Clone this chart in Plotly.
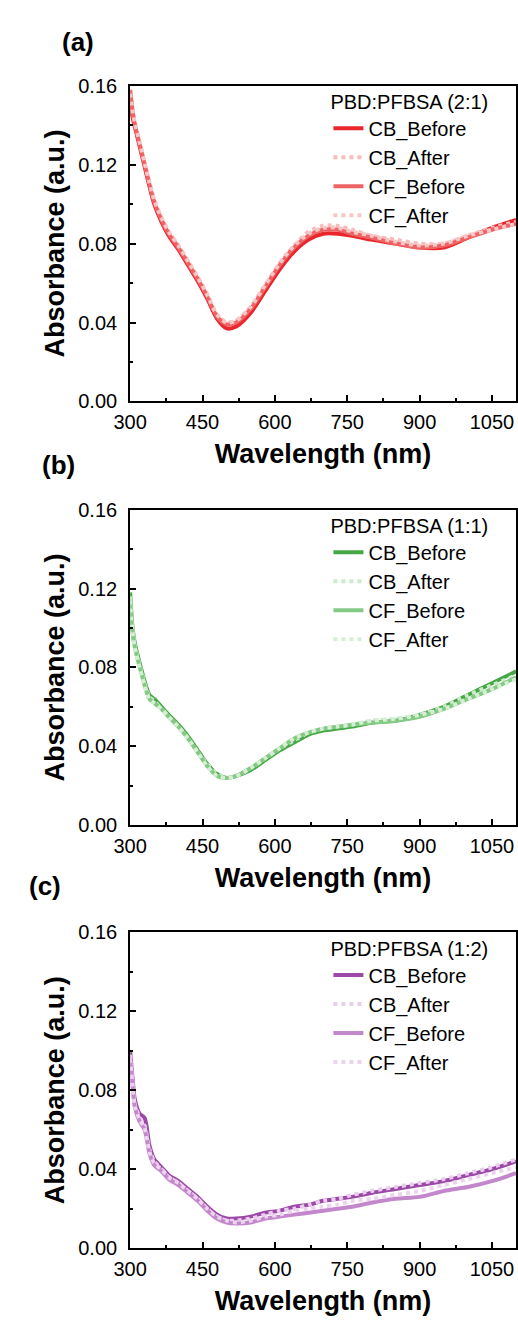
import plotly.graph_objects as go

# ---------------- data ----------------
wl = [300, 305, 310, 320, 330, 340, 350, 365, 380, 400, 420, 440, 460, 480, 500,
      520, 550, 580, 610, 640, 670, 700, 730, 760, 800, 850, 900, 950, 1000, 1050, 1100]

# (a) PBD:PFBSA (2:1)
a_cb_before = [0.150, 0.144, 0.139, 0.129, 0.119, 0.109, 0.100, 0.091, 0.084, 0.077, 0.069, 0.061,
               0.052, 0.042, 0.037, 0.038, 0.045, 0.056, 0.067, 0.076, 0.082, 0.085, 0.085, 0.084,
               0.082, 0.080, 0.078, 0.078, 0.083, 0.088, 0.092]
a_cb_after = [0.157, 0.148, 0.141, 0.131, 0.121, 0.111, 0.102, 0.093, 0.086, 0.079, 0.071, 0.063,
              0.054, 0.044, 0.040, 0.041, 0.048, 0.059, 0.070, 0.079, 0.086, 0.089, 0.089, 0.087,
              0.084, 0.082, 0.080, 0.080, 0.084, 0.088, 0.091]
a_cf_before = [0.158, 0.147, 0.140, 0.130, 0.120, 0.110, 0.101, 0.092, 0.085, 0.078, 0.070, 0.062,
               0.053, 0.043, 0.039, 0.040, 0.047, 0.058, 0.069, 0.078, 0.084, 0.087, 0.087, 0.085,
               0.083, 0.080, 0.078, 0.079, 0.083, 0.087, 0.090]
a_cf_after = [0.156, 0.147, 0.141, 0.131, 0.121, 0.111, 0.102, 0.093, 0.086, 0.079, 0.071, 0.063,
              0.054, 0.044, 0.040, 0.041, 0.048, 0.059, 0.070, 0.079, 0.085, 0.088, 0.088, 0.086,
              0.084, 0.081, 0.079, 0.080, 0.084, 0.087, 0.090]

# (b) PBD:PFBSA (1:1)
b_cb_before = [0.118, 0.100, 0.092, 0.082, 0.073, 0.066, 0.064, 0.060, 0.056, 0.051, 0.045, 0.038,
               0.031, 0.026, 0.024, 0.025, 0.028, 0.033, 0.038, 0.042, 0.046, 0.048, 0.049, 0.050,
               0.052, 0.053, 0.056, 0.060, 0.066, 0.072, 0.078]
b_cb_after = [0.116, 0.099, 0.091, 0.081, 0.072, 0.065, 0.063, 0.059, 0.055, 0.050, 0.044, 0.037,
              0.031, 0.026, 0.024, 0.025, 0.029, 0.034, 0.039, 0.043, 0.047, 0.049, 0.050, 0.051,
              0.053, 0.054, 0.056, 0.060, 0.066, 0.071, 0.076]
b_cf_before = [0.112, 0.097, 0.090, 0.080, 0.071, 0.064, 0.062, 0.059, 0.055, 0.050, 0.044, 0.037,
               0.030, 0.025, 0.024, 0.025, 0.029, 0.034, 0.039, 0.044, 0.047, 0.049, 0.050, 0.051,
               0.052, 0.053, 0.055, 0.059, 0.064, 0.069, 0.075]
b_cf_after = [0.114, 0.098, 0.090, 0.080, 0.071, 0.064, 0.062, 0.059, 0.055, 0.050, 0.044, 0.037,
              0.030, 0.025, 0.024, 0.025, 0.029, 0.034, 0.039, 0.044, 0.047, 0.049, 0.050, 0.051,
              0.053, 0.054, 0.056, 0.059, 0.064, 0.069, 0.074]

# (c) PBD:PFBSA (1:2)
c_cb_before = [0.100, 0.086, 0.075, 0.068, 0.066, 0.052, 0.045, 0.041, 0.037, 0.034, 0.030, 0.026,
               0.021, 0.017, 0.015, 0.015, 0.016, 0.018, 0.019, 0.021, 0.022, 0.024, 0.025, 0.026,
               0.028, 0.030, 0.032, 0.034, 0.037, 0.040, 0.044]
c_cb_after = [0.098, 0.084, 0.073, 0.066, 0.062, 0.050, 0.044, 0.040, 0.036, 0.033, 0.029, 0.025,
              0.020, 0.016, 0.014, 0.014, 0.015, 0.017, 0.019, 0.020, 0.022, 0.024, 0.025, 0.027,
              0.029, 0.031, 0.033, 0.035, 0.038, 0.041, 0.045]
c_cf_before = [0.095, 0.082, 0.071, 0.064, 0.060, 0.048, 0.042, 0.039, 0.035, 0.032, 0.028, 0.024,
               0.019, 0.015, 0.013, 0.0125, 0.013, 0.015, 0.016, 0.017, 0.018, 0.019, 0.020, 0.021,
               0.023, 0.025, 0.026, 0.029, 0.031, 0.034, 0.038]
c_cf_after = [0.096, 0.083, 0.072, 0.065, 0.061, 0.049, 0.043, 0.040, 0.036, 0.033, 0.029, 0.025,
              0.020, 0.016, 0.014, 0.013, 0.014, 0.016, 0.017, 0.019, 0.020, 0.021, 0.022, 0.024,
              0.025, 0.027, 0.029, 0.032, 0.035, 0.038, 0.041]

series_names = ["CB_Before", "CB_After", "CF_Before", "CF_After"]
panel_titles = ["PBD:PFBSA (2:1)", "PBD:PFBSA (1:1)", "PBD:PFBSA (1:2)"]
panel_labels = ["(a)", "(b)", "(c)"]
x_ticks = [300, 450, 600, 750, 900, 1050]
y_ticks = [0.00, 0.04, 0.08, 0.12, 0.16]
y_ticklabels = ["0.00", "0.04", "0.08", "0.12", "0.16"]

panels = [
    [a_cb_before, a_cb_after, a_cf_before, a_cf_after],
    [b_cb_before, b_cb_after, b_cf_before, b_cf_after],
    [c_cb_before, c_cb_after, c_cf_before, c_cf_after],
]
colors = [
    ["#E8262C", "#F7BDBD", "#EE6464", "#F7C6C6"],
    ["#45A845", "#CDEACD", "#84CA84", "#D6EED6"],
    ["#9A4AA6", "#EACDEE", "#C388CC", "#EDD3F0"],
]
dashes = ["solid", "dot", "solid", "dot"]

# ---------------- layout geometry ----------------
W, H = 518, 1329
x0, x1 = 117, 516
tops = [76, 507, 937]
bottoms = [397, 828, 1258]

FONT = "Liberation Sans, Arial, sans-serif"

fig = go.Figure()
for p in range(3):
    xa = "x" if p == 0 else f"x{p+1}"
    ya = "y" if p == 0 else f"y{p+1}"
    lg = "legend" if p == 0 else f"legend{p+1}"
    for s in range(4):
        fig.add_trace(go.Scatter(
            x=wl, y=panels[p][s], name=series_names[s], mode="lines",
            line=dict(color=colors[p][s], width=4, dash=dashes[s], shape="spline", smoothing=0.8),
            xaxis=xa, yaxis=ya, legend=lg,
        ))

layout = dict(
    width=W, height=H, margin=dict(l=0, r=0, t=0, b=0),
    paper_bgcolor="white", plot_bgcolor="white",
    font=dict(family=FONT, color="black"),
)

annotations = []
label_pos = [(63, 32), (43, 462), (29, 890)]
for p in range(3):
    sfx = "" if p == 0 else str(p + 1)
    yd = [1 - bottoms[p] / H, 1 - tops[p] / H]
    layout["xaxis" + sfx] = dict(
        domain=[x0 / W, x1 / W], range=[300, 1100], anchor="y" + sfx,
        tickvals=x_ticks, ticks="inside", ticklen=6, tickwidth=2, tickcolor="black",
        minor=dict(dtick=75, tick0=300, ticks="inside", ticklen=3, tickwidth=2, tickcolor="black"),
        showline=True, linecolor="black", linewidth=2, mirror=True,
        showgrid=False, zeroline=False, ticklabelstandoff=2,
        tickfont=dict(size=20, family=FONT, color="black"),
        title=dict(text="<b>Wavelength (nm)</b>", font=dict(size=27, family=FONT), standoff=12),
    )
    layout["yaxis" + sfx] = dict(
        domain=yd, range=[0, 0.16], anchor="x" + sfx,
        tickvals=y_ticks, ticktext=y_ticklabels, ticks="inside", ticklen=6, tickwidth=2,
        tickcolor="black",
        minor=dict(dtick=0.02, tick0=0, ticks="inside", ticklen=3, tickwidth=2, tickcolor="black"),
        showline=True, linecolor="black", linewidth=2, mirror=True,
        showgrid=False, zeroline=False, ticklabelstandoff=7,
        tickfont=dict(size=20, family=FONT, color="black"),
        title=dict(text="<b>Absorbance (a.u.)</b>", font=dict(size=27, family=FONT), standoff=6),
    )
    layout["legend" if p == 0 else f"legend{p+1}"] = dict(
        x=322 / W, xanchor="left", y=1 - (tops[p] - 3) / H, yanchor="top",
        bgcolor="rgba(0,0,0,0)", borderwidth=0,
        title=dict(text=panel_titles[p], side="top", font=dict(size=20, family=FONT)),
        font=dict(size=20, family=FONT, color="black"),
        tracegroupgap=0, itemwidth=30,
    )
    annotations.append(dict(
        text="<b>" + panel_labels[p] + "</b>", x=label_pos[p][0] / W, y=1 - label_pos[p][1] / H,
        xref="paper", yref="paper", showarrow=False, xanchor="center", yanchor="middle",
        font=dict(size=26, family=FONT, color="black"),
    ))

layout["annotations"] = annotations
fig.update_layout(**layout)
fig.write_html("out.html")
